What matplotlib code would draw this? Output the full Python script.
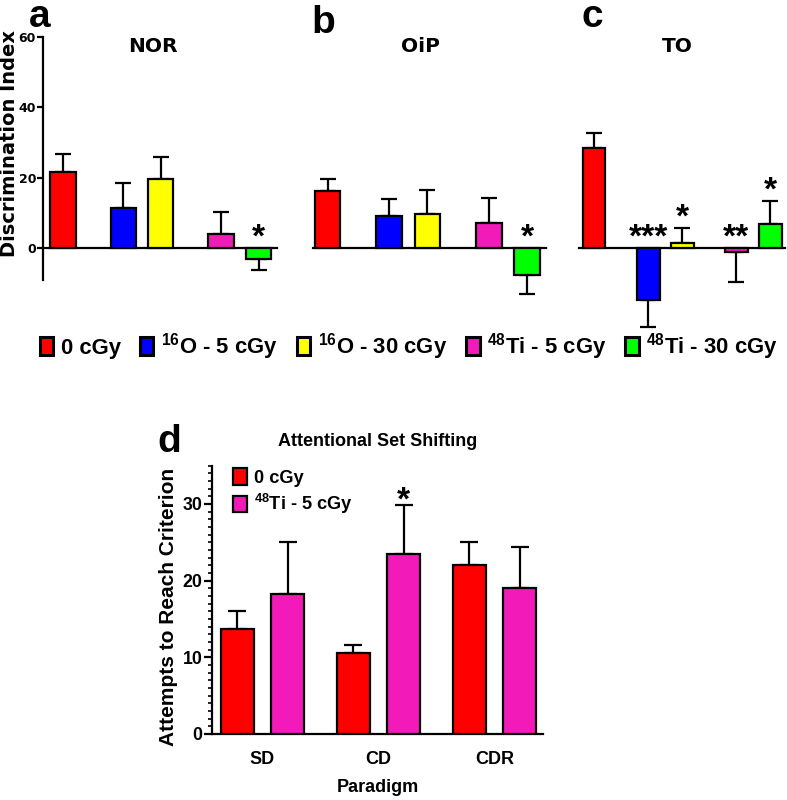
import matplotlib
matplotlib.use("Agg")
import matplotlib.pyplot as plt
from matplotlib import font_manager
from matplotlib.patches import Patch
from matplotlib.ticker import MultipleLocator

# ---- data ---------------------------------------------------------------
group_labels = [r"0 cGy", r"$^{16}$O - 5 cGy", r"$^{16}$O - 30 cGy",
                r"$^{48}$Ti - 5 cGy", r"$^{48}$Ti - 30 cGy"]
group_colors = ["#FF0000", "#0000FF", "#FFFF00", "#F21BBA", "#00FF00"]

panel_titles = ["NOR", "OiP", "TO"]
nor_mean = [21.7, 11.3, 19.6, 3.9, -3.0]
nor_sem = [5.0, 7.1, 6.3, 6.2, 3.2]
nor_sig = ["", "", "", "", "*"]
oip_mean = [16.3, 9.2, 9.6, 7.1, -7.8]
oip_sem = [3.4, 4.8, 7.0, 7.2, 5.3]
oip_sig = ["", "", "", "", "*"]
to_mean = [28.3, -14.9, 1.5, -1.2, 6.8]
to_sem = [4.5, 7.7, 4.1, 8.4, 6.6]
to_sig = ["", "***", "*", "**", "*"]
di_ticks = [0, 20, 40, 60]

paradigms = ["SD", "CD", "CDR"]
ass_labels = ["0 cGy", r"$^{48}$Ti - 5 cGy"]
ass_colors = ["#FF0000", "#F21BBA"]
ass_ctrl_mean = [13.7, 10.6, 22.0]
ass_ctrl_sem = [2.3, 1.0, 3.0]
ass_ti_mean = [18.3, 23.5, 19.0]
ass_ti_sem = [6.7, 6.4, 5.4]
ass_sig = ["", "*", ""]

# ---- fonts --------------------------------------------------------------
installed = {f.name for f in font_manager.fontManager.ttflist}
NARROW = "Liberation Sans Narrow" if "Liberation Sans Narrow" in installed else "Liberation Sans"
narrow_scale = 1.0 if NARROW == "Liberation Sans Narrow" else 0.85
WIDE = ["DejaVu Sans"]

plt.rcParams["font.family"] = ["Liberation Sans", "DejaVu Sans"]
plt.rcParams["font.weight"] = "bold"
plt.rcParams["mathtext.fontset"] = "custom"
plt.rcParams["mathtext.rm"] = NARROW + ":bold"
plt.rcParams["mathtext.bf"] = NARROW + ":bold"
plt.rcParams["axes.linewidth"] = 1.6

W, H = 787, 800
fig = plt.figure(figsize=(W / 100, H / 100), dpi=100)


def px_axes(x0, x1, ytop, ybot):
    return fig.add_axes([x0 / W, 1 - ybot / H, (x1 - x0) / W, (ybot - ytop) / H])


def star(ax, x, yc, s, fs):
    ax.annotate(s, (x, yc), xytext=(0, -0.55 * fs), textcoords="offset points",
                ha="center", va="baseline", fontsize=fs, fontweight="bold",
                annotation_clip=False)


bar_pos = [0, 1.6, 2.6, 4.2, 5.2]
panel_px = [(43, 277, -0.53, 5.69), (313, 546, -0.38, 5.69), (579, 785, -0.44, 5.63)]
title_x = [153, 420, 677]
panel_data = [(nor_mean, nor_sem, nor_sig), (oip_mean, oip_sem, oip_sig),
              (to_mean, to_sem, to_sig)]
y_lo, y_hi = -26, 60
px_per = (248 - 37) / 60.0

for i, ((x0, x1, xl, xr), (mean, sem, sig)) in enumerate(zip(panel_px, panel_data)):
    ax = px_axes(x0, x1, 37, 248 - y_lo * px_per)
    ax.bar(bar_pos, mean, width=0.67, color=group_colors, edgecolor="black",
           linewidth=1.6, zorder=3)
    lo = [e if m < 0 else 0 for m, e in zip(mean, sem)]
    hi = [e if m >= 0 else 0 for m, e in zip(mean, sem)]
    ax.errorbar(bar_pos, mean, yerr=[lo, hi], fmt="none", ecolor="black",
                elinewidth=1.6, capsize=6, capthick=1.6, zorder=2)
    for x, m, e, s in zip(bar_pos, mean, sem, sig):
        if s:
            base = m + e if m > 0 else 0
            star(ax, x, base + 5.6, s, 24)
    ax.set_xlim(xl, xr)
    ax.set_ylim(y_lo, y_hi)
    ax.spines["top"].set_visible(False)
    ax.spines["right"].set_visible(False)
    ax.spines["bottom"].set_position(("data", 0))
    ax.set_xticks([])
    fig.text(title_x[i] / W, 1 - 47 / H, panel_titles[i], ha="center", va="center",
             fontsize=14.5, fontweight="bold", family=WIDE)
    if i == 0:
        ax.set_yticks(di_ticks)
        ax.tick_params(axis="y", length=4, width=1.6, pad=1)
        for t in ax.get_yticklabels():
            t.set_fontfamily(WIDE)
            t.set_fontsize(9)
            t.set_fontweight("bold")
        ax.spines["left"].set_bounds(-9, 60)
    else:
        ax.spines["left"].set_visible(False)
        ax.set_yticks([])

fig.text(0 / W, 1 - 143.5 / H, "Discrimination Index", rotation=90, ha="left",
         va="center", fontsize=14, fontweight="bold", family=WIDE)
for lab, (x, y) in zip("abc", [(40, 27), (323, 33), (592, 27)]):
    fig.text(x / W, 1 - y / H, lab, ha="center", va="baseline", fontsize=28,
             fontweight="bold")

handles = [Patch(facecolor=c, edgecolor="black", linewidth=2.2) for c in group_colors]
fig.legend(handles, group_labels, loc="center", bbox_to_anchor=(409 / W, 1 - 347 / H),
           ncol=5, frameon=False, handlelength=0.62, handleheight=0.88,
           handletextpad=0.33, columnspacing=0.85, borderpad=0,
           prop={"family": [NARROW, "DejaVu Sans"], "weight": "bold",
                 "size": 18.8 * narrow_scale})

# ---- panel d ------------------------------------------------------------
axd = px_axes(212, 543, 465.6, 734)
gx = range(len(paradigms))
off, bw = 0.216, 0.285
for k, (mean, sem, col) in enumerate([(ass_ctrl_mean, ass_ctrl_sem, ass_colors[0]),
                                      (ass_ti_mean, ass_ti_sem, ass_colors[1])]):
    xs = [g + (2 * k - 1) * off for g in gx]
    axd.bar(xs, mean, width=bw, color=col, edgecolor="black", linewidth=1.6,
            zorder=3, label=ass_labels[k])
    axd.errorbar(xs, mean, yerr=[[0] * len(mean), sem], fmt="none", ecolor="black",
                 elinewidth=1.6, capsize=6.5, capthick=1.6, zorder=2)
    if k == 1:
        for x, m, e, s in zip(xs, mean, sem, ass_sig):
            if s:
                star(axd, x, m + e + 1.7, s, 24)

axd.set_xlim(-0.435, 2.418)
axd.set_ylim(0, 35)
axd.spines["top"].set_visible(False)
axd.spines["right"].set_visible(False)
axd.set_xticks(list(gx))
axd.set_xticklabels(paradigms, fontsize=13, fontweight="bold")
axd.tick_params(axis="x", length=0, pad=12)
axd.yaxis.set_major_locator(MultipleLocator(10))
axd.yaxis.set_minor_locator(MultipleLocator(1))
axd.tick_params(axis="y", which="major", length=6, width=1.6, pad=1)
axd.tick_params(axis="y", which="minor", length=3, width=1.2)
for t in axd.get_yticklabels():
    t.set_fontfamily([NARROW, "DejaVu Sans"])
    t.set_fontsize(15 * narrow_scale)
    t.set_fontweight("bold")
axd.set_xlabel("Paradigm", fontsize=13, fontweight="bold", labelpad=8)
axd.set_title("Attentional Set Shifting", fontsize=13, fontweight="bold", pad=14)
fig.text(169 / W, 1 - 607 / H, "Attempts to Reach Criterion", rotation=90,
         ha="center", va="center", fontsize=15, fontweight="bold")
fig.text(169 / W, 1 - 452 / H, "d", ha="center", va="baseline", fontsize=28,
         fontweight="bold")
axd.legend(loc="upper left", bbox_to_anchor=(0.063, 0.99), frameon=False,
           handlelength=0.78, handleheight=1.0, handletextpad=0.35,
           borderpad=0, borderaxespad=0, labelspacing=0.3,
           prop={"family": [NARROW, "DejaVu Sans"], "weight": "bold",
                 "size": 15.5 * narrow_scale})

fig.savefig("out.png", dpi=100)
